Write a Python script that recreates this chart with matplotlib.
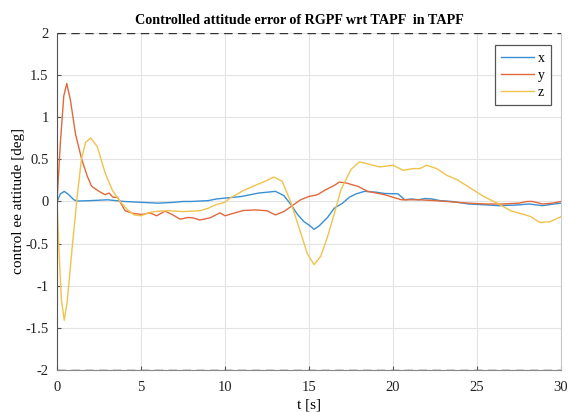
import matplotlib
matplotlib.use("Agg")
import matplotlib.pyplot as plt
import numpy as np

# time samples and values
t_x = [0, 0.2, 0.43, 0.7, 1.0, 1.2, 2, 3, 4, 5, 6, 7, 7.5, 8, 9, 9.5, 10, 11, 11.5, 12,
       12.5, 13, 13.5, 13.9, 14.3, 14.7, 15.0, 15.3, 15.6, 16.1, 16.5, 17.0, 17.4, 17.8,
       18.3, 19, 19.5, 20.3, 20.7, 21.1, 21.5, 21.9, 22.3, 22.8, 23.5, 24.5, 25.5, 26.3,
       27, 27.5, 28.1, 28.5, 28.9, 29.4, 30]
att_x = [0, 0.09, 0.12, 0.08, 0.02, 0.005, 0.01, 0.02, 0.0, -0.01, -0.02, -0.01, 0.0, 0.0,
         0.01, 0.03, 0.04, 0.06, 0.08, 0.1, 0.11, 0.12, 0.07, -0.03, -0.15, -0.24, -0.28,
         -0.33, -0.29, -0.19, -0.08, -0.02, 0.05, 0.09, 0.12, 0.11, 0.095, 0.09, 0.02, 0.03,
         0.02, 0.035, 0.03, 0.01, 0.0, -0.03, -0.04, -0.05, -0.045, -0.04, -0.03, -0.04,
         -0.05, -0.035, -0.02]

t_y = [0, 0.2, 0.4, 0.58, 0.8, 1.1, 1.47, 1.8, 2.06, 2.5, 2.86, 3.1, 3.33, 3.6, 4.05, 4.5,
       5.04, 5.54, 5.93, 6.43, 6.9, 7.32, 7.8, 8.1, 8.5, 9.1, 9.7, 10.0, 10.5, 11.1, 11.8,
       12.5, 13.0, 13.5, 14.0, 14.5, 15.0, 15.5, 16.0, 16.5, 16.8, 17.2, 17.9, 18.5, 19.5,
       20.5, 21.5, 22.5, 23.5, 24.5, 25.5, 26.5, 27.5, 28.0, 28.3, 28.9, 29.5, 30]
att_y = [0, 0.7, 1.25, 1.40, 1.2, 0.8, 0.5, 0.3, 0.18, 0.12, 0.08, 0.1, 0.05, 0.05, -0.11,
         -0.14, -0.155, -0.135, -0.17, -0.115, -0.16, -0.21, -0.19, -0.195, -0.22, -0.195,
         -0.135, -0.17, -0.14, -0.107, -0.1, -0.11, -0.16, -0.12, -0.05, 0.02, 0.06, 0.08,
         0.14, 0.19, 0.23, 0.22, 0.18, 0.12, 0.08, 0.02, 0.02, 0.01, -0.005, -0.02, -0.03,
         -0.03, -0.02, 0.0, 0.0, -0.03, -0.02, 0.0]

t_z = [0, 0.1, 0.25, 0.43, 0.6, 0.9, 1.17, 1.45, 1.7, 2.0, 2.4, 2.86, 3.3, 3.75, 4.2, 4.6,
       5.0, 5.5, 6.0, 6.7, 7.5, 8.5, 9.0, 9.5, 10.0, 10.3, 11.1, 11.9, 12.5, 12.9, 13.4,
       13.9, 14.5, 14.9, 15.3, 15.7, 16.1, 16.5, 16.9, 17.5, 18.0, 18.6, 19.2, 20.0, 20.6,
       21.2, 21.6, 22.0, 22.6, 23.2, 23.8, 24.6, 25.4, 26.2, 27.0, 27.8, 28.2, 28.75,
       29.35, 30]
att_z = [0, -0.5, -1.15, -1.41, -1.2, -0.55, 0.0, 0.5, 0.7, 0.755, 0.65, 0.34, 0.13, 0.0,
         -0.1, -0.16, -0.17, -0.13, -0.115, -0.11, -0.12, -0.11, -0.08, -0.035, -0.01,
         0.04, 0.13, 0.2, 0.25, 0.29, 0.24, 0.0, -0.37, -0.62, -0.75, -0.65, -0.42, -0.15,
         0.14, 0.38, 0.47, 0.44, 0.41, 0.43, 0.37, 0.39, 0.39, 0.43, 0.39, 0.31, 0.26,
         0.16, 0.06, -0.02, -0.11, -0.155, -0.18, -0.25, -0.24, -0.18]

limit = 2

plt.rcParams['font.family'] = ['Liberation Serif', 'DejaVu Serif']

fig = plt.figure(figsize=(5.68, 4.12), dpi=100)
ax = fig.add_axes([0.1004, 0.102, 0.8873, 0.818])

ax.plot(t_x, att_x, color='#3a8fd2', lw=1.0, label='x')
ax.plot(t_y, att_y, color='#e06a3c', lw=1.0, label='y')
ax.plot(t_z, att_z, color='#f1c24c', lw=1.0, label='z')
ax.axhline(limit, color='#333333', ls=(0, (6, 4)), lw=1.0)
ax.axhline(-limit, color='#333333', ls=(0, (6, 4)), lw=1.0)

ax.set_xlim(0, 30)
ax.set_ylim(-2, 2)
ax.set_xticks(np.arange(0, 31, 5))
ax.set_yticks(np.arange(-2, 2.01, 0.5))
ax.set_yticklabels(['%g' % v for v in np.arange(-2, 2.01, 0.5)])
ax.grid(True, color='#e3e3e3', lw=0.8)
ax.set_axisbelow(True)
ax.tick_params(direction='in', length=3, width=0.8, labelsize=10.5,
               colors='#555555', labelcolor='#222222')
ax.tick_params(axis='x', pad=8)
ax.tick_params(axis='y', pad=6)
ax.spines['top'].set_visible(False)
ax.spines['right'].set_color('#c8c8c8')
ax.spines['left'].set_color('#555555')
ax.spines['bottom'].set_color('#888888')

fig.text(0.527, 0.951, 'Controlled attitude error of RGPF wrt TAPF  in TAPF',
         fontsize=10.2, fontweight='bold', ha='center', va='center')
ax.set_xlabel('t [s]', fontsize=11, labelpad=3)
ax.set_ylabel('control ee attitude [deg]', fontsize=11, labelpad=0)

leg = ax.legend(loc='upper right', bbox_to_anchor=(0.98, 0.963), fontsize=10,
                handlelength=2.4, handletextpad=0.25, borderpad=0.45, labelspacing=0.3,
                borderaxespad=0, fancybox=False, framealpha=1)
leg.get_frame().set_edgecolor('#555555')
leg.get_frame().set_linewidth(0.9)

fig.savefig('out.png', dpi=100)
